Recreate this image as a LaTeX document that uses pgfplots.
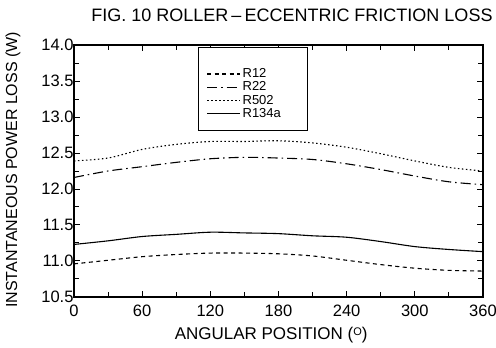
\documentclass[border=0pt]{standalone}
\usepackage{pgfplots}
\pgfplotsset{compat=1.18}
\usepackage{fontspec}
\setmainfont{Liberation Sans}
\begin{document}
\begin{tikzpicture}
\useasboundingbox (-74pt,-51pt) rectangle (422pt,297pt);
\begin{axis}[
  clip=false,
  scale only axis, width=409pt, height=252pt,
  xmin=0, xmax=360, ymin=10.5, ymax=14,
  xtick={0,60,...,360}, minor xtick={30,90,...,330},
  ytick={10.5,11,...,14}, minor ytick={10.75,11.25,...,13.75},
  tick align=inside, major tick length=6pt, minor tick length=5pt,
  axis line style={line width=1.6pt},
  every tick/.style={line width=1pt, black},
  /pgf/number format/assume math mode=true,
  yticklabel style={/pgf/number format/fixed, /pgf/number format/fixed zerofill, /pgf/number format/precision=1, xshift=3pt},
  xticklabel style={yshift=-4pt},
  ticklabel style={font=\fontsize{16.5}{18}\selectfont},
  xlabel={ANGULAR POSITION (\raisebox{0.45ex}{\fontsize{11}{12}\selectfont O})},
  xlabel style={at={(axis description cs:0.482,0)}, anchor=base, yshift=-43pt, font=\fontsize{17}{19}\selectfont},
  ylabel={INSTANTANEOUS POWER LOSS (W)},
  ylabel style={at={(axis description cs:-0.149,0.504)}, anchor=center, font=\fontsize{16}{18}\selectfont},
  legend style={at={(axis description cs:0.303,0.992)}, anchor=north west, draw=black, line width=1.2pt,
    font=\fontsize{13}{14}\selectfont, row sep=-1.4pt, inner xsep=8pt, inner ysep=10pt},
  legend cell align=left,
  legend image code/.code={\draw[#1] (0pt,0pt) -- (33pt,0pt);},
]
\node[anchor=base, font=\fontsize{18}{20}\selectfont] at (axis description cs:0.533,1) [yshift=24pt] {FIG. 10 ROLLER\,--\,ECCENTRIC FRICTION LOSS};
\addlegendimage{empty legend}
\addlegendentry{\rule{0pt}{5pt}}
% R12
\addplot[black, line width=1.1pt, dash pattern=on 4pt off 3.5pt, smooth] coordinates {
(0,10.96) (30,11.01) (60,11.06) (90,11.09) (120,11.11) (150,11.11) (180,11.10)
(210,11.07) (240,11.01) (270,10.95) (300,10.90) (330,10.87) (360,10.86)};
\addlegendentry{\makebox[55pt][l]{R12}}
% R22
\addplot[black, line width=1.1pt, dash pattern=on 10pt off 4pt on 1.5pt off 4pt, smooth] coordinates {
(0,12.16) (30,12.25) (60,12.31) (90,12.37) (120,12.42) (150,12.44) (180,12.43)
(210,12.41) (240,12.35) (270,12.27) (300,12.18) (330,12.10) (360,12.06)};
\addlegendentry{R22}
% R502
\addplot[black, line width=1.1pt, dash pattern=on 1.5pt off 2.5pt, smooth] coordinates {
(0,12.39) (30,12.43) (60,12.55) (90,12.62) (120,12.66) (150,12.66) (180,12.67)
(210,12.64) (240,12.58) (270,12.49) (300,12.39) (330,12.30) (360,12.25)};
\addlegendentry{R502}
% R134a
\addplot[black, line width=1.1pt, solid, smooth] coordinates {
(0,11.23) (30,11.28) (60,11.34) (90,11.37) (120,11.40) (150,11.39) (180,11.38)
(210,11.35) (240,11.33) (270,11.27) (300,11.20) (330,11.16) (360,11.13)};
\addlegendentry{R134a}
\end{axis}
\end{tikzpicture}
\end{document}
